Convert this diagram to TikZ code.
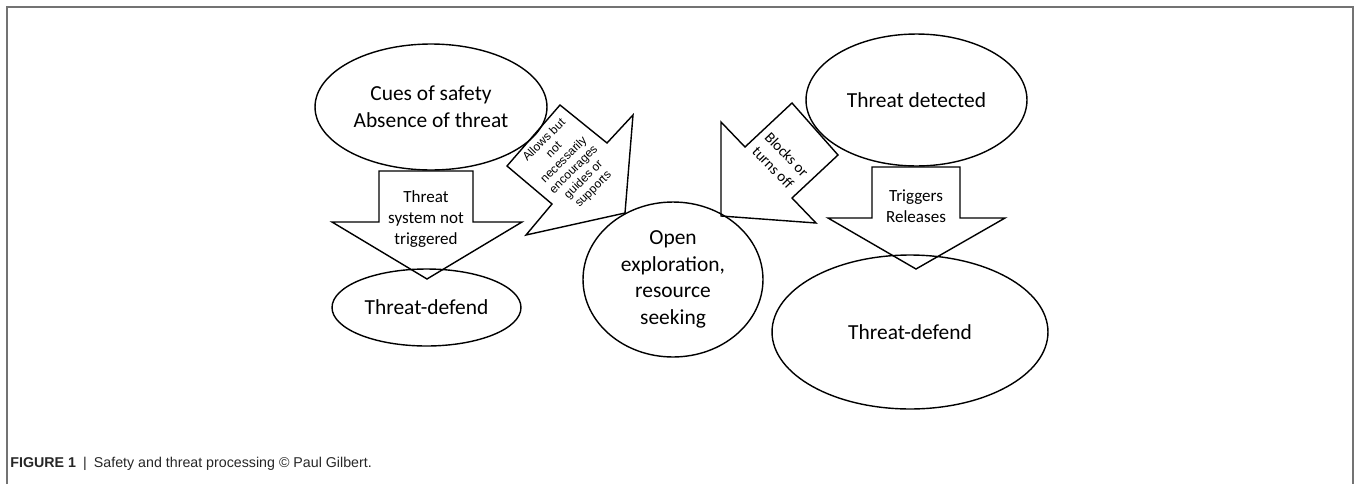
\documentclass[tikz,border=0pt]{standalone}
\usepackage{fontspec}
\setmainfont{Carlito}
\newfontfamily\arialfont{Liberation Sans}
\usetikzlibrary{shapes.geometric}
\begin{document}
\begin{tikzpicture}[x=0.02cm,y=-0.02cm,
  oval/.style={draw,line width=0.8pt,ellipse,inner sep=0pt,align=center,font=\fontsize{12.2}{15.2}\selectfont},
  arrowshape/.style={draw,line width=0.8pt,line join=miter},
  lbl/.style={align=center,inner sep=0pt,font=\fontsize{9.7}{11.8}\selectfont},
  tiltlbl/.style={align=center,inner sep=0pt,font=\fontsize{8.6}{10.8}\selectfont},
  small/.style={align=center,inner sep=0pt,font=\arialfont\fontsize{6.8}{7.9}\selectfont}]
\useasboundingbox (0,0) rectangle (1356,484);
\draw[black!55, line width=0.6pt] (7,484) -- (7,7) -- (1353,7) -- (1353,484);

% ellipses
\node[oval,minimum width=4.64cm,minimum height=2.52cm] (cues) at (431,107) {Cues of safety\\Absence of threat};
\node[oval,minimum width=3.78cm,minimum height=1.54cm] (tdl) at (426.5,307.5) {Threat-defend};
\node[oval,minimum width=4.42cm,minimum height=2.64cm] (det) at (916.5,100) {Threat detected};
\node[oval,minimum width=5.52cm,minimum height=3.08cm] (tdr) at (910,332) {Threat-defend};
\node[oval,minimum width=3.6cm,minimum height=3.1cm] (open) at (673,279.5) {Open\\exploration,\\resource\\seeking};

% left down arrow
\draw[arrowshape] (379,171) -- (473,171) -- (473,222) -- (522,222) -- (427,279) -- (332,222) -- (379,222) -- cycle;
\node[lbl] (l1) at (426,219) {Threat\\system not\\triggered};

% right down arrow
\draw[arrowshape] (872,167) -- (960,167) -- (960,218) -- (1005,218) -- (916,269) -- (828,218) -- (872,218) -- cycle;
\node[lbl] (l2) at (916,206) {Triggers\\Releases};

% tilted arrow toward open exploration
\draw[arrowshape] (507,166) -- (560,105) -- (607,143) -- (633,115) -- (625,213) -- (526,235) -- (552,204) -- cycle;
\node[small,rotate=45] (l3) at (569,165) {Allows but\\not\\necessarily\\encourages\\guides or\\supports};

% tilted arrow from threat detected
\draw[arrowshape] (721,216) -- (721,122) -- (745,147) -- (792,103) -- (838,155) -- (792,198) -- (816,223) -- cycle;
\node[tiltlbl,rotate=-46] (l4) at (780,161) {Blocks or\\turns off};

% caption
\node[anchor=base west,inner sep=0pt,text=black!85,font=\arialfont\fontsize{8.1}{9.5}\selectfont] (cap) at (10,467) {\textbf{FIGURE 1}\enspace|\enspace Safety and threat processing © Paul Gilbert.};
\end{tikzpicture}
\end{document}
